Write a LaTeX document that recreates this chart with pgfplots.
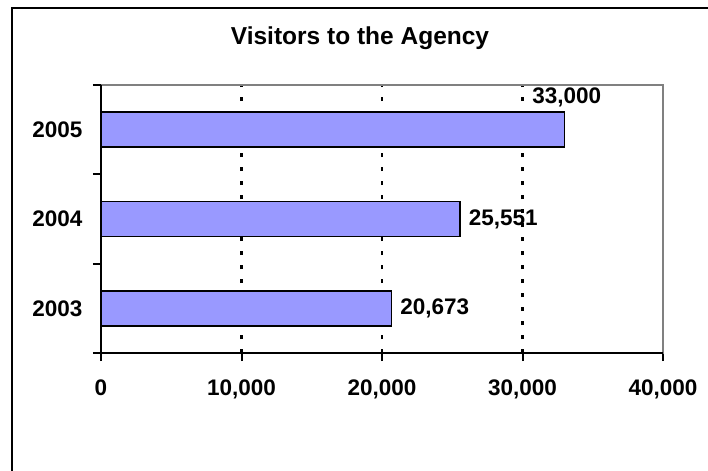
\documentclass[border=0pt]{standalone}
\usepackage{pgfplots}
\pgfplotsset{compat=1.18}
\usepackage{fontspec}
\setmainfont{Liberation Sans}
\definecolor{barblue}{HTML}{9999FF}
\definecolor{boxgray}{HTML}{808080}

% year, visitors, label shift (dx, dy in bp)
\pgfplotstableread{
pos visitors dx dy
1 20673 0 0
2 25551 0 0
3 33000 -41 32
}\visitors

\begin{document}
\begin{tikzpicture}
\clip (0bp,0bp) rectangle (708bp,-471bp);
\draw[line width=2.4bp] (12bp,-700bp) -- (12bp,-8bp) -- (800bp,-8bp);
\node[font=\fontsize{24.5bp}{29bp}\selectfont\bfseries] at (360bp,-38bp) {Visitors to the Agency};
\begin{axis}[
    at={(101bp,-353bp)}, anchor=south west,
    scale only axis, width=562bp, height=268bp,
    xbar, bar width=35bp,
    enlargelimits=false,
    xmin=0, xmax=40000, ymin=0.5, ymax=3.5,
    xtick={0,10000,20000,30000,40000},
    scaled x ticks=false,
    xtick pos=bottom, ytick pos=left,
    ytick={1,2,3}, yticklabels={2003,2004,2005},
    ytick style={draw=none},
    extra y ticks={0.5,1.5,2.5,3.5},
    extra y tick labels={},
    extra y tick style={grid=none, ytick style={draw=black, line width=2bp}},
    xtick style={draw=black, line width=2bp},
    tick align=outside, major tick length=8bp,
    xmajorgrids,
    major grid style={black, line width=2.5bp, dash pattern=on 4bp off 10bp},
    axis line style={boxgray, line width=1.2bp},
    /pgf/number format/1000 sep={,},
    /pgf/number format/assume math mode=true,
    ticklabel style={font=\fontsize{22.5bp}{27bp}\selectfont\bfseries},
    xticklabel style={yshift=-15bp},
    yticklabel style={xshift=-7bp},
    after end axis/.code={
        \draw[black, line width=2.2bp] (rel axis cs:0,1) -- (rel axis cs:0,0) -- (rel axis cs:1,0);
    },
]
\addplot[fill=barblue, draw=black, line width=1.6bp,
    point meta=x,
    visualization depends on={\thisrow{dx} \as \dx},
    visualization depends on={\thisrow{dy} \as \dy},
    nodes near coords,
    nodes near coords style={anchor=west, text=black, inner sep=0pt,
        font=\fontsize{22.5bp}{27bp}\selectfont\bfseries,
        /pgf/number format/fixed, /pgf/number format/precision=0,
        xshift=\dx bp + 8bp, yshift=\dy bp},
] table[x=visitors, y=pos] {\visitors};
\end{axis}
\end{tikzpicture}
\end{document}
